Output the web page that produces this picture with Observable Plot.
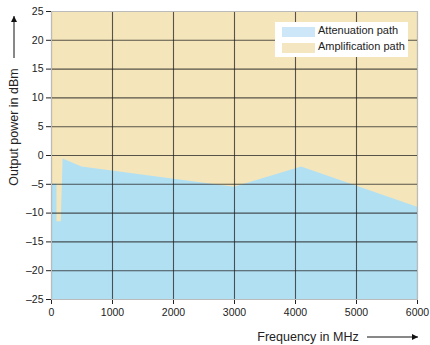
<!DOCTYPE html>
<html><head><meta charset="utf-8">
<script src="https://cdn.jsdelivr.net/npm/d3@7"></script>
<script src="https://cdn.jsdelivr.net/npm/@observablehq/plot@0.6"></script>
<style>
body{margin:0;background:#fff;}
#wrap{position:relative;width:430px;height:345px;font-family:"Liberation Sans",Arial,sans-serif;}
#legend{position:absolute;left:275px;top:22px;width:133px;height:35px;background:#fff;font-size:11px;color:#222;}
.row{position:absolute;left:7px;height:10px;}
.sw{position:absolute;left:0;width:33px;height:10px;}
.lb{position:absolute;left:36px;top:-3px;white-space:nowrap;}
</style></head>
<body><div id="wrap"></div>
<script>
const freq  = [0,    90,   90,    160,   190,  500, 3000, 4100, 6000];
const power = [-5,   -5,   -11.5, -11.5, -0.6, -2,  -5.5, -2,   -9];
const xTicks = [0,1000,2000,3000,4000,5000,6000];
const yTicks = [-25,-20,-15,-10,-5,0,5,10,15,20,25];
const seriesNames = ["Attenuation path","Amplification path"];
const tan = "#f5e5bb", blue = "#b2e0f3";
const data = freq.map((f,i)=>({f, p: power[i]}));
const font = '"Liberation Sans",Arial,sans-serif';
const plot = Plot.plot({
  width:430, height:345,
  marginLeft:51, marginRight:13, marginTop:11, marginBottom:46,
  style:{fontFamily:font, fontSize:"10.5px", color:"#222", background:"transparent"},
  x:{domain:[0,6000], ticks:xTicks, tickFormat:d=>String(d), label:null, tickSize:5, tickPadding:4},
  y:{domain:[-25,25], ticks:yTicks, tickFormat:d=>d<0?"\u2013"+(-d):String(d), label:null, tickSize:5, tickPadding:3},
  marks:[
    Plot.frame({fill:tan, stroke:"none"}),
    Plot.areaY(data,{x:"f", y1:-25, y2:"p", fill:blue}),
    Plot.gridX(xTicks,{stroke:"#222", strokeOpacity:0.75, strokeWidth:1.1}),
    Plot.gridY(yTicks,{stroke:"#222", strokeOpacity:0.75, strokeWidth:1.1}),
    Plot.frame({stroke:"#bbb", strokeWidth:1})
  ]
});
const wrap = document.getElementById("wrap");
wrap.appendChild(plot);
const svg = d3.select(plot);
svg.append("defs").append("marker").attr("id","ah").attr("viewBox","0 0 10 10")
  .attr("refX",10).attr("refY",5).attr("markerWidth",9).attr("markerHeight",6)
  .attr("markerUnits","userSpaceOnUse").attr("orient","auto")
  .append("path").attr("d","M0,0L10,5L0,10z").attr("fill","#111");
svg.append("text").attr("x",308).attr("y",341).attr("text-anchor","middle")
  .attr("font-size",12.5).attr("fill","#222").text("Frequency in MHz");
svg.append("line").attr("x1",367).attr("x2",418).attr("y1",337).attr("y2",337)
  .attr("stroke","#111").attr("stroke-width",1).attr("marker-end","url(#ah)");
svg.append("text").attr("transform","translate(18,127) rotate(-90)").attr("text-anchor","middle")
  .attr("font-size",12.5).attr("fill","#222").text("Output power in dBm");
svg.append("line").attr("x1",14).attr("x2",14).attr("y1",58).attr("y2",16)
  .attr("stroke","#111").attr("stroke-width",1).attr("marker-end","url(#ah)");
const lg = document.createElement("div"); lg.id="legend";
const swc = ["#cde6f8", "#f5e6c2"];
lg.innerHTML = seriesNames.map((n,i)=>`<div class="row" style="top:${5+i*16}px"><div class="sw" style="background:${swc[i]}"></div><div class="lb">${n}</div></div>`).join("");
wrap.appendChild(lg);
</script></body></html>
